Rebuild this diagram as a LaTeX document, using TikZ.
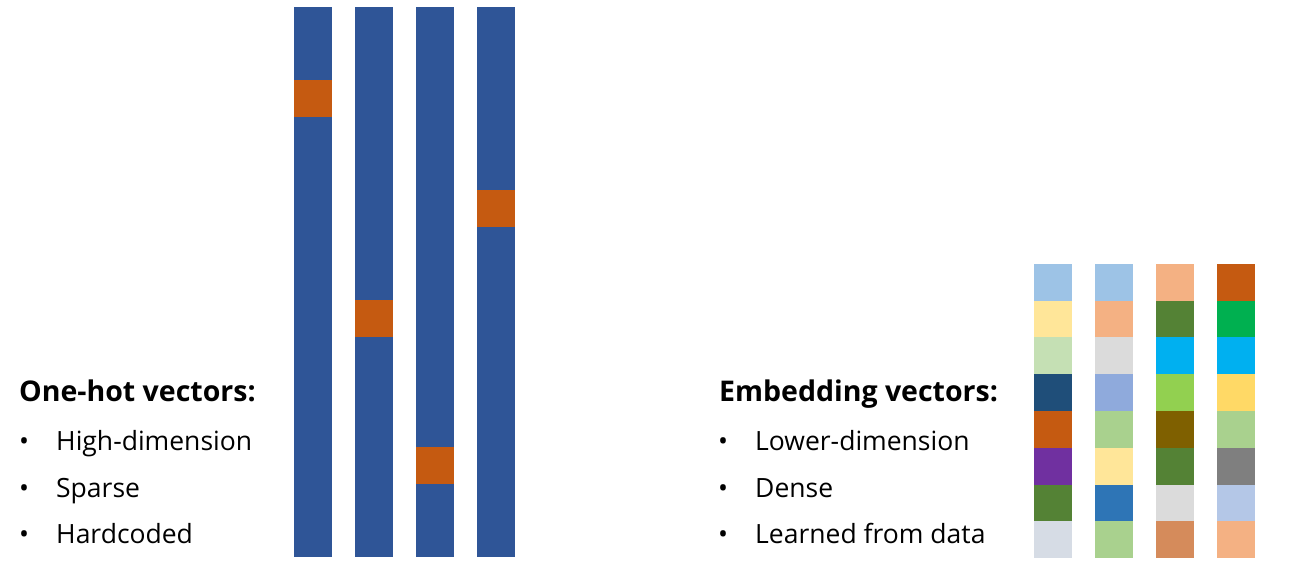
\documentclass[tikz,border=0pt]{standalone}
\usepackage{fontspec}
\setmainfont{Open Sans}
% one-hot colours
\definecolor{hotblue}{HTML}{2F5597}
\definecolor{hotorange}{HTML}{C55A11}
% embedding colours
\definecolor{skyblue}{HTML}{9DC3E6}
\definecolor{paleyellow}{HTML}{FFE699}
\definecolor{palegreen}{HTML}{C5E0B4}
\definecolor{navy}{HTML}{1F4E79}
\definecolor{rust}{HTML}{C55A11}
\definecolor{plum}{HTML}{7030A0}
\definecolor{moss}{HTML}{548235}
\definecolor{mist}{HTML}{D6DCE5}
\definecolor{peach}{HTML}{F4B183}
\definecolor{silver}{HTML}{DBDBDB}
\definecolor{cornflower}{HTML}{8FAADC}
\definecolor{sage}{HTML}{A9D18E}
\definecolor{steel}{HTML}{2E75B6}
\definecolor{cyanish}{HTML}{00B0F0}
\definecolor{lime}{HTML}{92D050}
\definecolor{darkolive}{HTML}{7F6000}
\definecolor{clay}{HTML}{D58B5B}
\definecolor{emerald}{HTML}{00B050}
\definecolor{gold}{HTML}{FFD966}
\definecolor{slate}{HTML}{7F7F7F}
\definecolor{powder}{HTML}{B4C7E7}
\begin{document}
\begin{tikzpicture}[
    x=1pt, y=-1pt,
    title/.style={anchor=base west, inner sep=0pt, font=\fontsize{28.5}{34}\selectfont\bfseries},
    item/.style={anchor=base west, inner sep=0pt, font=\fontsize{26.5}{32}\selectfont},
    bullet/.style={anchor=base west, inner sep=0pt, font=\fontsize{26.5}{32}\selectfont}
]
\useasboundingbox (0,0) rectangle (1302,569);

% One-hot vectors (15 cells each)
\foreach \xl/\hot in {294/2, 355/8, 416/12, 477/5} {
  \fill[hotblue] (\xl,7) rectangle ++(38,550);
  \fill[hotorange] (\xl,7+\hot*36.67) rectangle ++(38,36.67);
}

% Embedding vectors (8 cells each)
\foreach \xl/\clist in {
    1034/{skyblue,paleyellow,palegreen,navy,rust,plum,moss,mist},
    1095/{skyblue,peach,silver,cornflower,sage,paleyellow,steel,sage},
    1156/{peach,moss,cyanish,lime,darkolive,moss,silver,clay},
    1217/{rust,emerald,cyanish,gold,sage,slate,powder,peach}} {
  \foreach \c [count=\r from 0] in \clist {
    \fill[\c] (\xl,264+\r*36.75) rectangle ++(38,36.75);
  }
}

% Left text
\node[title] (onehot) at (19,402) {One-hot vectors:};
\node[bullet] (b1) at (19,450) {•};
\node[item] (high) at (56,450) {High-dimension};
\node[bullet] (b2) at (19,497) {•};
\node[item] (sparse) at (56,497) {Sparse};
\node[bullet] (b3) at (19,543) {•};
\node[item] (hard) at (56,543) {Hardcoded};

% Right text
\node[title] (embed) at (719,402) {Embedding vectors:};
\node[bullet] (b4) at (718,450) {•};
\node[item] (lower) at (755,450) {Lower-dimension};
\node[bullet] (b5) at (718,497) {•};
\node[item] (dense) at (755,497) {Dense};
\node[bullet] (b6) at (718,543) {•};
\node[item] (learned) at (755,543) {Learned from data};

\end{tikzpicture}
\end{document}
